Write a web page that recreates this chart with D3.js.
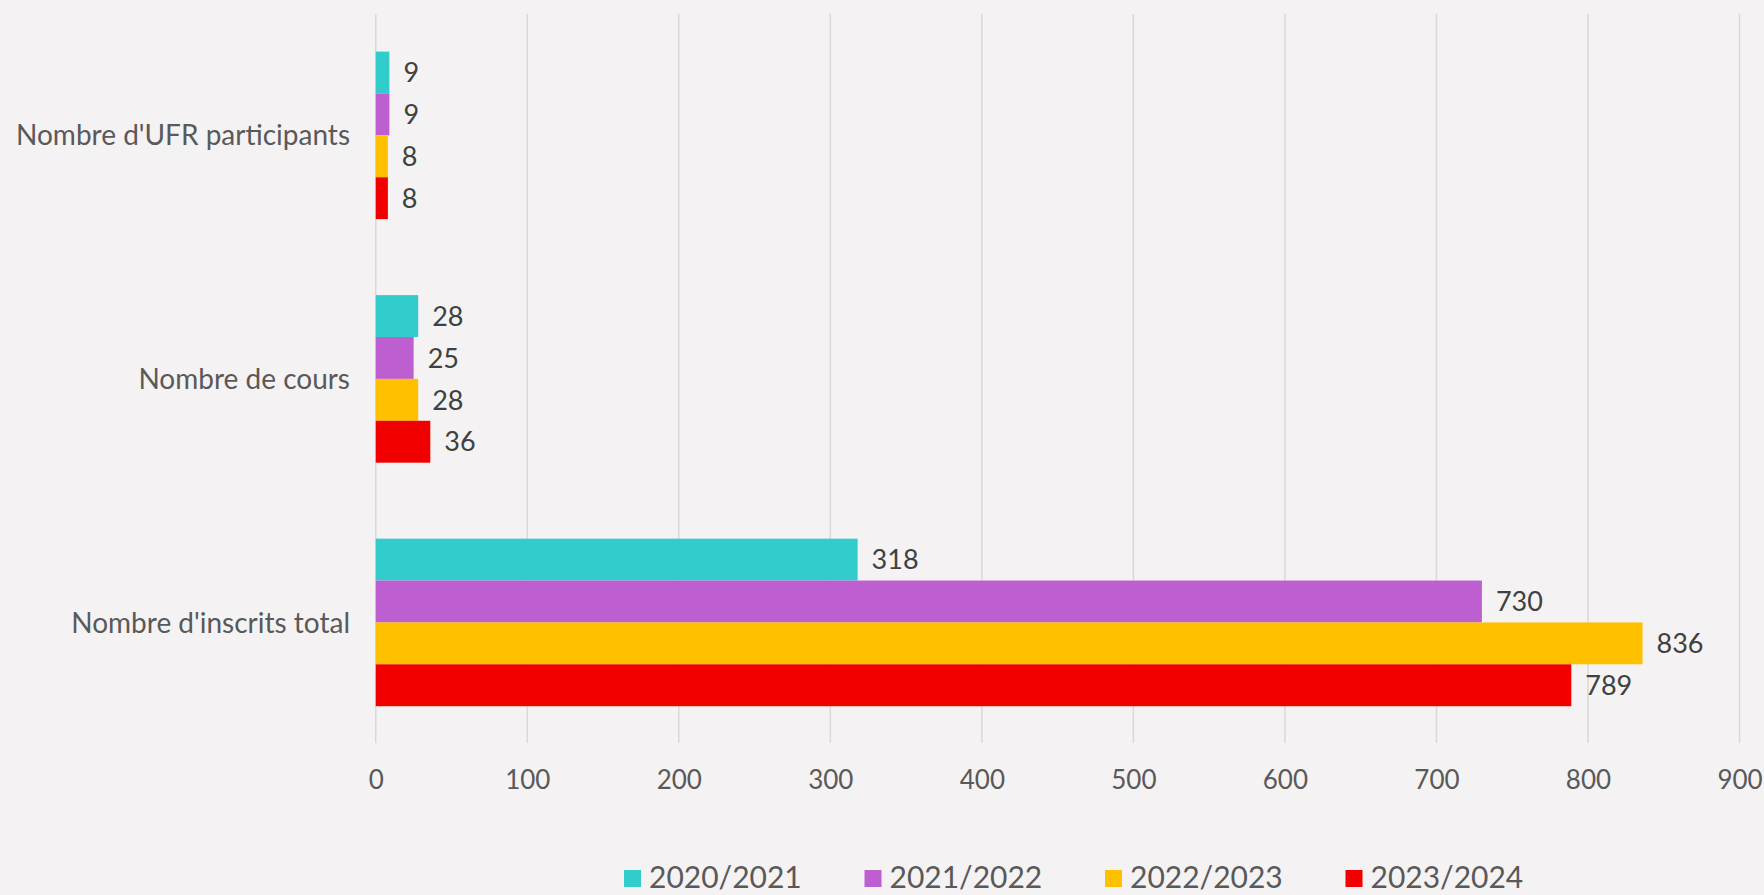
<!DOCTYPE html>
<html>
<head>
<meta charset="utf-8">
<script src="https://cdn.jsdelivr.net/npm/d3@7"></script>
<style>
  body { margin: 0; background: #f5f2f3; }
  svg { display: block; font-family: Lato, "Open Sans", sans-serif; }
</style>
</head>
<body>
<script>
// categories (top to bottom) and series
var categories = ["Nombre d'UFR participants", "Nombre de cours", "Nombre d'inscrits total"];
var years = ["2020/2021", "2021/2022", "2022/2023", "2023/2024"];
var s2020 = [9, 28, 318];
var s2021 = [9, 25, 730];
var s2022 = [8, 28, 836];
var s2023 = [8, 36, 789];
var xTicks = [0, 100, 200, 300, 400, 500, 600, 700, 800, 900];
var colors = ["#33cccc", "#bd5fd1", "#ffc000", "#f20000"];

var seriesValues = [s2020, s2021, s2022, s2023];

var width = 1764, height = 895;

var svg = d3.select("body").append("svg")
    .attr("width", width)
    .attr("height", height);

svg.append("rect").attr("width", width).attr("height", height).attr("fill", "#f5f2f3");

var x = d3.scaleLinear().domain([0, 900]).range([375.75, 1739.5]);
var y = d3.scaleBand().domain(categories).range([13.6, 744.2])
    .paddingInner(0.312).paddingOuter(0.156);
var ySub = d3.scaleBand().domain(years).range([0, y.bandwidth()]);
var color = d3.scaleOrdinal().domain(years).range(colors);

// gridlines
svg.append("g").selectAll("line")
    .data(xTicks)
    .enter().append("line")
    .attr("x1", function(d) { return x(d); })
    .attr("x2", function(d) { return x(d); })
    .attr("y1", 14)
    .attr("y2", 743)
    .attr("stroke", "#d9d9d9")
    .attr("stroke-width", 1.5);

// x axis labels
var xAxis = svg.append("g")
    .attr("transform", "translate(0,789)")
    .call(d3.axisBottom(x).tickValues(xTicks).tickSize(0).tickFormat(d3.format("d")));
xAxis.select(".domain").remove();
xAxis.selectAll("text")
    .attr("y", 0).attr("dy", 0)
    .attr("fill", "#595959")
    .style("font-size", "26px")
    .style("font-family", "Lato, sans-serif");

// category labels
svg.append("g").selectAll("text")
    .data(categories)
    .enter().append("text")
    .attr("x", 350)
    .attr("y", function(d) { return y(d) + y.bandwidth() / 2; })
    .attr("dy", "0.36em")
    .attr("text-anchor", "end")
    .attr("fill", "#595959")
    .style("font-size", "28px")
    .text(function(d) { return d; });

// bars
var rows = [];
categories.forEach(function(c, ci) {
  years.forEach(function(yr, si) {
    rows.push({ cat: c, year: yr, value: seriesValues[si][ci] });
  });
});

var bar = svg.append("g").selectAll("g")
    .data(rows)
    .enter().append("g")
    .attr("transform", function(d) {
      return "translate(0," + (y(d.cat) + ySub(d.year)) + ")";
    });

bar.append("rect")
    .attr("x", x(0))
    .attr("width", function(d) { return x(d.value) - x(0); })
    .attr("height", ySub.bandwidth())
    .attr("fill", function(d) { return color(d.year); });

bar.append("text")
    .attr("x", function(d) { return x(d.value) + 14; })
    .attr("y", ySub.bandwidth() / 2)
    .attr("dy", "0.36em")
    .attr("fill", "#404040")
    .style("font-size", "27px")
    .text(function(d) { return d.value; });

// legend
var legend = svg.append("g").selectAll("g")
    .data(years)
    .enter().append("g")
    .attr("transform", function(d, i) { return "translate(" + (624 + i * 240.5) + ",0)"; });

legend.append("rect")
    .attr("x", 0).attr("y", 870)
    .attr("width", 17).attr("height", 17)
    .attr("fill", function(d) { return color(d); });

legend.append("text")
    .attr("x", 25).attr("y", 888)
    .attr("fill", "#595959")
    .style("font-size", "30px")
    .text(function(d) { return d; });
</script>
</body>
</html>
